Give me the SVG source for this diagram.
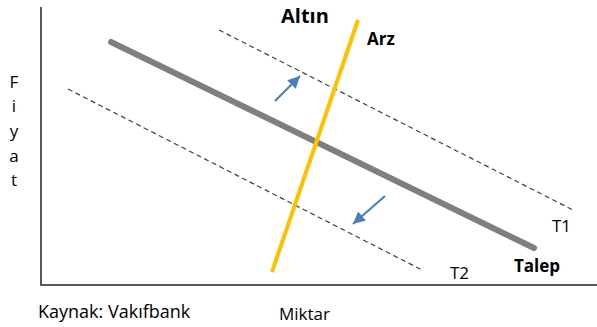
<svg xmlns="http://www.w3.org/2000/svg" width="597" height="327" viewBox="0 0 597 327">
<defs>
<style>
text{font-family:"Open Sans","Liberation Sans",sans-serif;fill:#000}
.b{font-weight:bold}
.dash{stroke:#404040;stroke-width:1.2;stroke-dasharray:5,3.5;fill:none}
.arr{stroke:#4a7ebb;stroke-width:2.2;fill:none}
</style>
<marker id="ah" viewBox="0 0 10 10" refX="10" refY="5" markerWidth="5.5" markerHeight="5.5" orient="auto" markerUnits="strokeWidth">
<path d="M0,0 L10,5 L0,10 z" fill="#4a7ebb"/>
</marker>
</defs>
<rect width="597" height="327" fill="#fff"/>
<g id="axes" stroke="#595959" stroke-width="2" fill="none">
<line x1="41" y1="7" x2="41" y2="285"/>
<line x1="40" y1="285" x2="597" y2="285"/>
</g>
<g id="connectors">
<line id="T1" class="dash" x1="219" y1="30" x2="573" y2="210"/>
<line id="T2" class="dash" x1="68" y1="89" x2="422" y2="270"/>
<line id="talep" x1="111" y1="42" x2="534" y2="248" stroke="#7f7f7f" stroke-width="6" stroke-linecap="round"/>
<line id="arz" x1="358" y1="20" x2="272" y2="272" stroke="#ffc000" stroke-width="4"/>
<line class="arr" x1="275" y1="101" x2="300" y2="76" marker-end="url(#ah)"/>
<line class="arr" x1="385" y1="196" x2="353" y2="224" marker-end="url(#ah)"/>
</g>
<g id="labels">
<text class="b" x="281" y="23" font-size="20">Altın</text>
<text class="b" x="367" y="45" font-size="17">Arz</text>
<text x="552" y="232" font-size="17">T1</text>
<text x="450" y="279" font-size="17">T2</text>
<text class="b" x="514" y="272" font-size="17">Talep</text>
<text x="38" y="318" font-size="18">Kaynak: Vakıfbank</text>
<text x="279" y="320" font-size="17">Miktar</text>
<g font-size="17" text-anchor="middle">
<text x="14" y="88">F</text>
<text x="14" y="112">i</text>
<text x="14" y="137">y</text>
<text x="14" y="162">a</text>
<text x="14" y="186">t</text>
</g>
</g>
</svg>
